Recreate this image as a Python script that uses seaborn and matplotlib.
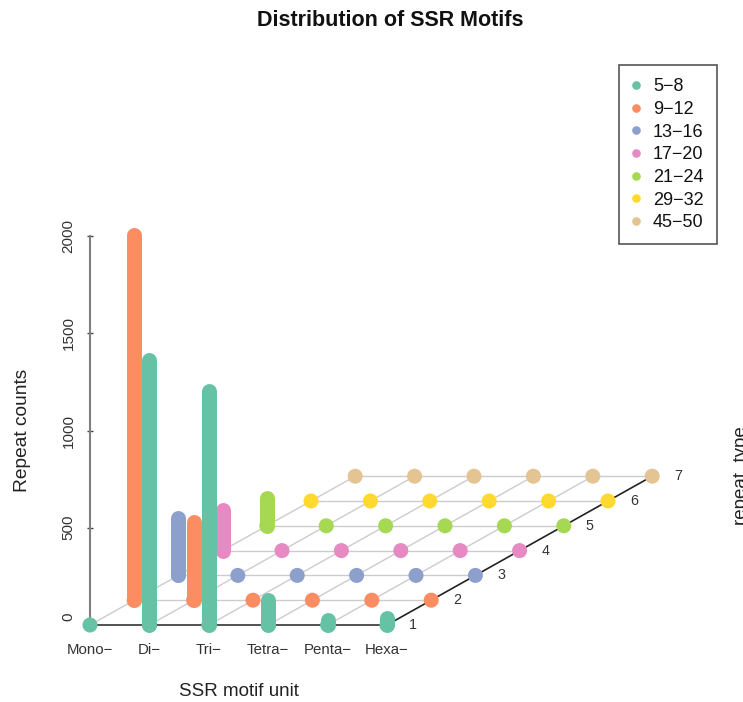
import pandas as pd
import seaborn as sns
import matplotlib.pyplot as plt
from matplotlib.lines import Line2D
from matplotlib.transforms import ScaledTranslation

motifs = ['Mono−', 'Di−', 'Tri−', 'Tetra−', 'Penta−', 'Hexa−']
repeat_types = ['5−8', '9−12', '13−16', '17−20', '21−24', '29−32', '45−50']
row_labels = ['1', '2', '3', '4', '5', '6', '7']

counts_5_8 = [0, 1365, 1205, 126, 25, 35]
counts_9_12 = [1880, 400, 0, 0, 0, 0]
counts_13_16 = [295, 0, 0, 0, 0, 0]
counts_17_20 = [211, 0, 0, 0, 0, 0]
counts_21_24 = [145, 0, 0, 0, 0, 0]
counts_29_32 = [0, 0, 0, 0, 0, 0]
counts_45_50 = [0, 0, 0, 0, 0, 0]
all_counts = [counts_5_8, counts_9_12, counts_13_16, counts_17_20,
              counts_21_24, counts_29_32, counts_45_50]

# oblique projection like scatterplot3d: each row shifts right and up
skew_x = 44.2 / 59.4
skew_y = 24.8 / 0.1945

rows = []
for r, vals in enumerate(all_counts):
    for c, v in enumerate(vals):
        rows.append({'col': c, 'row': r, 'type': repeat_types[r], 'count': v,
                     'sx': c + r * skew_x, 'base': r * skew_y})
df = pd.DataFrame(rows)
df['top'] = df['base'] + df['count']

sns.set_theme(style='white')
plt.rcParams['font.family'] = ['Liberation Sans', 'DejaVu Sans']
colors = sns.color_palette('Set2', 7)

fig = plt.figure(figsize=(7.43, 7.02), dpi=100)
ax = fig.add_axes([0, 0, 1, 1])
ax.patch.set_visible(False)

# floor grid
n_rows = len(repeat_types)
n_cols = len(motifs)
for r in range(1, n_rows):
    ax.plot([r * skew_x, n_cols - 1 + r * skew_x], [r * skew_y, r * skew_y],
            color='#cccccc', lw=1.0, zorder=1)
for c in range(n_cols - 1):
    ax.plot([c, c + (n_rows - 1) * skew_x], [0, (n_rows - 1) * skew_y],
            color='#cccccc', lw=1.0, zorder=1)
ax.plot([n_cols - 1, n_cols - 1 + (n_rows - 1) * skew_x], [0, (n_rows - 1) * skew_y],
        color='#222222', lw=1.2, zorder=1)

sns.scatterplot(data=df, x='sx', y='base', hue='type', hue_order=repeat_types,
                palette=colors, s=117, linewidth=0, alpha=1, legend=False,
                ax=ax, zorder=3)

# bars, back row first
for r in range(n_rows - 1, -1, -1):
    sub = df[(df['row'] == r) & (df['count'] > 0)]
    if len(sub):
        ax.vlines(sub['sx'], sub['base'], sub['top'], color=colors[r],
                  lw=10.8, capstyle='round', zorder=4 + n_rows - r)

ax.set_xlim(-90 / 59.4, (743 - 90) / 59.4)
ax.set_ylim(-(702 - 625) / 0.1945, 625 / 0.1945)

for side in ['top', 'right']:
    ax.spines[side].set_visible(False)
ax.spines['left'].set_position(('data', 0))
ax.spines['left'].set_bounds(0, 2000)
ax.spines['left'].set_color('#7f7f7f')
ax.spines['left'].set_linewidth(1.5)
ax.spines['bottom'].set_position(('data', 0))
ax.spines['bottom'].set_bounds(0, n_cols - 1)
ax.spines['bottom'].set_color('#333333')
ax.spines['bottom'].set_linewidth(1.2)

ax.set_xticks(range(n_cols))
ax.set_xticklabels(motifs)
ax.tick_params(axis='x', length=0, pad=13, labelsize=10.8, labelcolor='#333333')
ax.set_yticks([0, 500, 1000, 1500, 2000])
ax.tick_params(axis='y', left=True, direction='inout', length=5, width=1.0, color='#444444',
               pad=8, labelsize=11, labelcolor='#333333', labelrotation=90)
for lab in ax.get_yticklabels():
    lab.set_va('center')
zero_lab = ax.get_yticklabels()[0]
zero_lab.set_transform(zero_lab.get_transform() + ScaledTranslation(0, 6 / 72, fig.dpi_scale_trans))

ax.set_xlabel('SSR motif unit', fontsize=13.5, color='#222222', va='center')
ax.xaxis.set_label_coords(239 / 743, 1 - 692 / 702)
ax.set_ylabel('Repeat counts', fontsize=13.8, color='#222222', va='center')
ax.yaxis.set_label_coords(23 / 743, 1 - 430 / 702)

for r, lab in enumerate(row_labels):
    ax.annotate(lab, (n_cols - 1 + r * skew_x, r * skew_y), xytext=(18.7, 0),
                textcoords='offset points', fontsize=10.3, color='#333333',
                ha='center', va='center')

fig.text(742 / 743, 1 - 476 / 702, 'repeat  type', rotation=90, fontsize=13.5,
         color='#222222', ha='center', va='center')
fig.text(390 / 743, 1 - 20 / 702, 'Distribution of SSR Motifs', fontsize=15.5,
         fontweight='bold', color='#111111', ha='center', va='center')

handles = [Line2D([], [], ls='', marker='o', ms=6.2, mew=0, color=colors[i])
           for i in range(n_rows)]
leg = ax.legend(handles, repeat_types, loc='upper left',
                bbox_to_anchor=(619 / 743, 1 - 65 / 702), bbox_transform=fig.transFigure,
                fontsize=13, labelspacing=0.315, borderpad=0.73, borderaxespad=0,
                handletextpad=0.73, handlelength=0.42, fancybox=False, framealpha=1,
                edgecolor='#555555', labelcolor='#111111')
leg.get_frame().set_linewidth(1.2)

plt.savefig('out.png', dpi=100)
